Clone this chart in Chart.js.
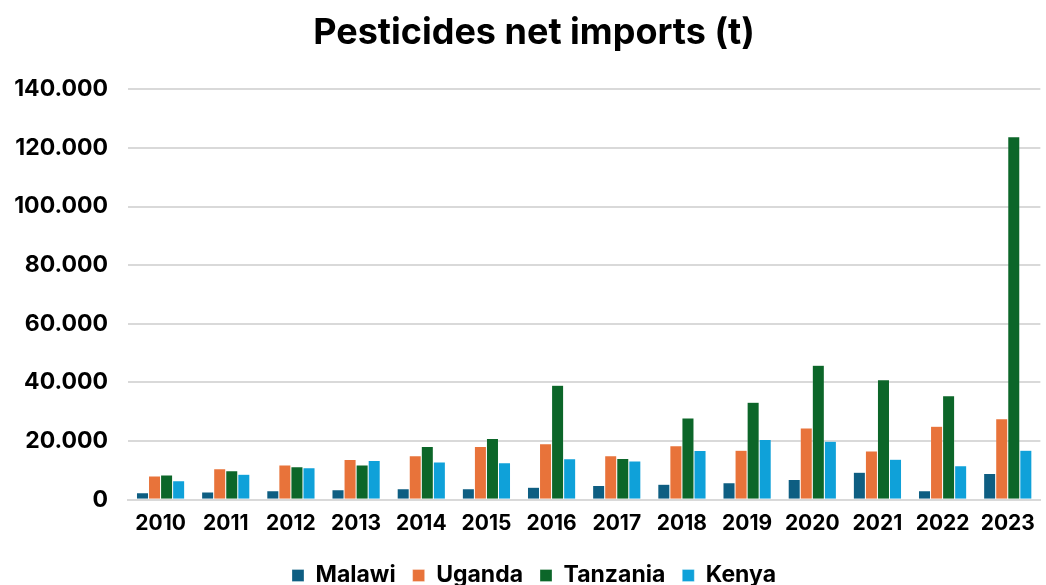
<!DOCTYPE html>
<html>
<head>
<meta charset="utf-8">
<script src="https://cdn.jsdelivr.net/npm/chart.js@4/dist/chart.umd.min.js"></script>
<style>
html,body{margin:0;padding:0;background:#fff;}
#wrap{width:1046px;height:585px;position:relative;}
</style>
</head>
<body>
<div id="wrap"><canvas id="c" width="1046" height="585"></canvas></div>
<script>
const categories = ['2010','2011','2012','2013','2014','2015','2016','2017','2018','2019','2020','2021','2022','2023'];
const malawi   = [2400, 2700, 3100, 3400, 3800, 3800, 4300, 4900, 5300, 5800, 6900, 9400, 3100, 9000];
const uganda   = [8100, 10600, 11900, 13700, 15000, 18200, 19100, 15000, 18400, 16900, 24500, 16600, 25100, 27600];
const tanzania = [8450, 9900, 11300, 11900, 18200, 20900, 39100, 14100, 27900, 33300, 45900, 40900, 35500, 123800];
const kenya    = [6500, 8700, 10900, 13400, 12900, 12600, 14000, 13200, 16800, 20600, 20000, 13800, 11600, 16900];
const seriesNames = ['Malawi','Uganda','Tanzania','Kenya'];
const colors = ['#0E5E82','#E8733A','#0C6629','#0FA1D9'];
const yTicks = [0,20000,40000,60000,80000,100000,120000,140000];

const FONT = 'Inter, Lato, "DejaVu Sans", sans-serif';
const fmt = v => v === 0 ? '0' : v.toLocaleString('de-DE');

const widenYAxis = {
  id: 'widenYAxis',
  afterLayout(chart) { chart.scales.y.left = 0; }
};

new Chart(document.getElementById('c'), {
  type: 'bar',
  data: {
    labels: categories,
    datasets: [malawi, uganda, tanzania, kenya].map((d, i) => ({
      label: seriesNames[i],
      data: d,
      backgroundColor: colors[i],
      borderColor: 'rgba(255,255,255,0.6)',
      borderWidth: 0.5,
      barPercentage: 1.0,
      categoryPercentage: 0.74
    }))
  },
  plugins: [widenYAxis],
  options: {
    responsive: false,
    animation: false,
    layout: { padding: { left: 26, right: 4, top: 8, bottom: -12 } },
    plugins: {
      title: {
        display: true,
        text: 'Pesticides net imports (t)',
        color: '#000',
        font: { family: FONT, size: 36, weight: 'bold' },
        padding: { top: 4, bottom: 34 }
      },
      legend: {
        position: 'bottom',
        labels: {
          color: '#000',
          font: { family: FONT, size: 23, weight: 'bold' },
          boxWidth: 12,
          boxHeight: 12,
          padding: 17
        }
      },
      tooltip: { enabled: false }
    },
    scales: {
      x: {
        grid: { display: false, drawTicks: false },
        border: { display: true, color: '#d9d9d9', width: 2 },
        ticks: {
          color: '#000',
          font: { family: FONT, size: 21, weight: 'bold' },
          padding: 11,
          maxRotation: 0
        }
      },
      y: {
        min: 0,
        max: 140000,
        afterBuildTicks: axis => { axis.ticks = yTicks.map(v => ({ value: v })); },
        afterFit: axis => { axis.width = 102; },
        grid: { color: '#d9d9d9', lineWidth: 2, drawTicks: false },
        border: { display: false },
        ticks: {
          color: '#000',
          font: { family: FONT, size: 23, weight: 'bold' },
          padding: 20,
          callback: v => fmt(v)
        }
      }
    }
  }
});
</script>
</body>
</html>
